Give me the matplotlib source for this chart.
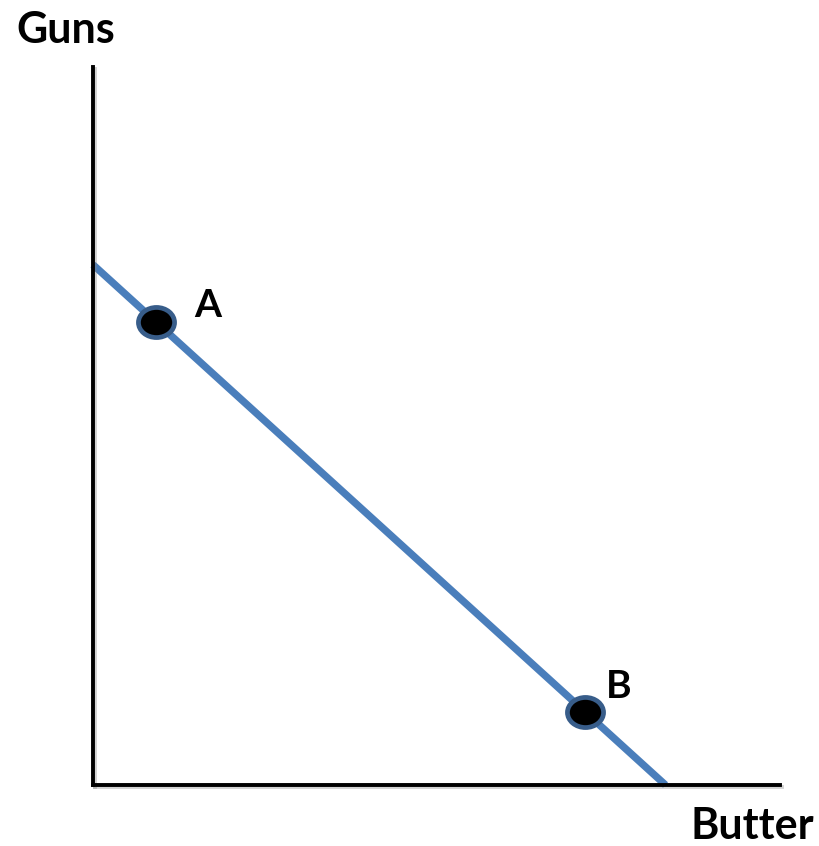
import numpy as np
import matplotlib.pyplot as plt
from matplotlib.path import Path
from matplotlib.transforms import Affine2D
import matplotlib.patheffects as pe

# production possibilities frontier
butter = [0, 10]
guns = [10, 0]
point_names = ["A", "B"]
point_butter = [1.1, 8.6]
point_guns = [8.9, 1.4]
label_offsets = [(52, 16), (33, 26)]  # pixels

fig = plt.figure(figsize=(8.19, 8.46), dpi=100)
ax = fig.add_axes([93 / 819, 61 / 846, 687 / 819, 718 / 846])
ax.set_xlim(0, 12)
ax.set_ylim(0, 13.8)

for side in ["top", "right"]:
    ax.spines[side].set_visible(False)
for side in ["left", "bottom"]:
    ax.spines[side].set_linewidth(2.8)
    ax.spines[side].set_color("black")
    ax.spines[side].set_path_effects(
        [pe.SimpleLineShadow(offset=(1.5, -1.5), shadow_color="gray", alpha=0.35), pe.Normal()]
    )
ax.set_xticks([])
ax.set_yticks([])

ax.plot(butter, guns, color="#4a7ebb", linewidth=5.3, solid_capstyle="butt", clip_on=False)

ellipse = Path.unit_circle().transformed(Affine2D().scale(1.2, 1.0))
ax.plot(point_butter, point_guns, linestyle="none", marker=ellipse, markersize=26,
        markerfacecolor="black", markeredgecolor="#385d8a", markeredgewidth=3.4, zorder=5)

font = dict(family=["Lato", "DejaVu Sans"], fontweight="bold", color="black")
for name, x, y, off in zip(point_names, point_butter, point_guns, label_offsets):
    ax.annotate(name, (x, y), xytext=off, textcoords="offset pixels",
                ha="center", va="center", fontsize=28, **font)

fig.text(66 / 819, 1 - 30 / 846, "Guns", ha="center", va="center", fontsize=31, **font)
fig.text(752 / 819, 1 - 826 / 846, "Butter", ha="center", va="center", fontsize=31, **font)

fig.savefig("out.png", dpi=100)
